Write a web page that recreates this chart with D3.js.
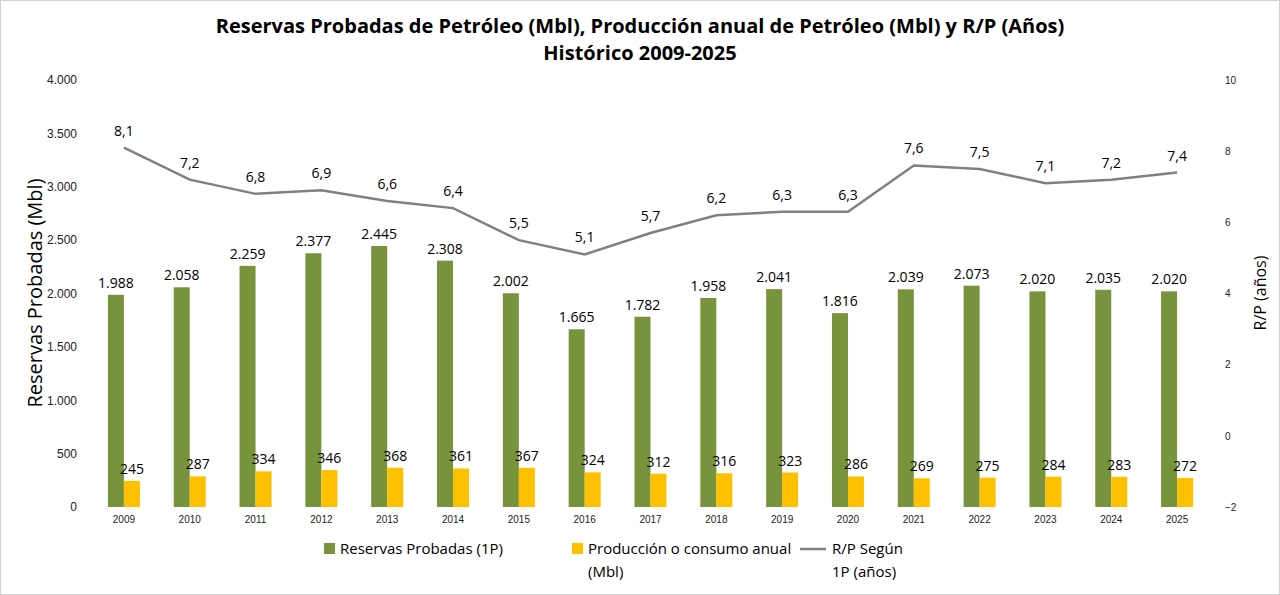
<!DOCTYPE html>
<html lang="es">
<head>
<meta charset="UTF-8">
<script src="https://d3js.org/d3.v7.min.js"></script>
<style>
  body { margin:0; background:#fff; font-family: "Open Sans", sans-serif; }
  .tick text { fill:#222; }
  .domain, .tick line { display:none; }
</style>
</head>
<body>
<svg id="chart" width="1280" height="595"></svg>
<script>
const years = [2009,2010,2011,2012,2013,2014,2015,2016,2017,2018,2019,2020,2021,2022,2023,2024,2025];
const reservas = [1988,2058,2259,2377,2445,2308,2002,1665,1782,1958,2041,1816,2039,2073,2020,2035,2020];
const produccion = [245,287,334,346,368,361,367,324,312,316,323,286,269,275,284,283,272];
const rp = [8.1,7.2,6.8,6.9,6.6,6.4,5.5,5.1,5.7,6.2,6.3,6.3,7.6,7.5,7.1,7.2,7.4];
const leftTicks = [0,500,1000,1500,2000,2500,3000,3500,4000];
const rightTicks = [-2,0,2,4,6,8,10];

const svg = d3.select("#chart");
const fmt = d3.formatLocale({decimal:",", thousands:".", grouping:[3], currency:["",""]});
const fInt = fmt.format(",d"), fDec = fmt.format(".1f");

svg.append("rect").attr("x",0.5).attr("y",0.5).attr("width",1279).attr("height",594)
  .attr("fill","#fff").attr("stroke","#d0d0d0");

svg.append("text").attr("x",640).attr("y",33).attr("text-anchor","middle")
  .attr("font-size",20).attr("font-weight","bold")
  .text("Reservas Probadas de Petróleo (Mbl), Producción anual de Petróleo (Mbl) y R/P (Años)");
svg.append("text").attr("x",640).attr("y",60).attr("text-anchor","middle")
  .attr("font-size",20).attr("font-weight","bold").text("Histórico 2009-2025");

const x = d3.scaleBand().domain(years).range([91,1210]);
const y = d3.scaleLinear().domain([0,4000]).range([507,80]);
const y2 = d3.scaleLinear().domain([-2,10]).range([507,80]);
const bw = 16;
const cx = d => x(d) + x.bandwidth()/2;

svg.append("g").attr("transform","translate(80,0)")
  .call(d3.axisLeft(y).tickValues(leftTicks).tickFormat(fInt).tickSize(0))
  .selectAll("text").attr("font-size",12);
svg.append("g").attr("transform","translate(1222,0)")
  .call(d3.axisRight(y2).tickValues(rightTicks).tickSize(0))
  .selectAll("text").attr("font-size",10);
svg.append("g").attr("transform","translate(0,513)")
  .call(d3.axisBottom(x).tickSize(0))
  .selectAll("text").attr("font-size",10);

svg.append("text").attr("transform","translate(42,293) rotate(-90)").attr("text-anchor","middle")
  .attr("font-size",20).text("Reservas Probadas (Mbl)");
svg.append("text").attr("transform","translate(1266,293) rotate(-90)").attr("text-anchor","middle")
  .attr("font-size",16).text("R/P (años)");

svg.selectAll(".g").data(years).enter().append("rect")
  .attr("x",d=>cx(d)-bw).attr("width",bw)
  .attr("y",(d,i)=>y(reservas[i])).attr("height",(d,i)=>y(0)-y(reservas[i]))
  .attr("fill","#77933c");
svg.selectAll(".yl").data(years).enter().append("rect")
  .attr("x",d=>cx(d)).attr("width",bw)
  .attr("y",(d,i)=>y(produccion[i])).attr("height",(d,i)=>y(0)-y(produccion[i]))
  .attr("fill","#ffc000");

svg.selectAll(".gl").data(years).enter().append("text")
  .attr("x",d=>cx(d)-bw/2).attr("y",(d,i)=>y(reservas[i])-7).attr("text-anchor","middle")
  .attr("font-size",14).text((d,i)=>fInt(reservas[i]));
svg.selectAll(".pl").data(years).enter().append("text")
  .attr("x",d=>cx(d)+bw/2).attr("y",(d,i)=>y(produccion[i])-7).attr("text-anchor","middle")
  .attr("font-size",14).text((d,i)=>produccion[i]);

svg.append("path").datum(rp)
  .attr("d", d3.line().x((d,i)=>cx(years[i])).y(d=>y2(d)))
  .attr("fill","none").attr("stroke","#808080").attr("stroke-width",2.5);
svg.selectAll(".rl").data(years).enter().append("text")
  .attr("x",d=>cx(d)).attr("y",(d,i)=>y2(rp[i])-12).attr("text-anchor","middle")
  .attr("font-size",14).text((d,i)=>fDec(rp[i]));

const lg = svg.append("g").attr("font-size",15);
lg.append("rect").attr("x",324).attr("y",543).attr("width",11).attr("height",11).attr("fill","#77933c");
lg.append("text").attr("x",340).attr("y",554).text("Reservas Probadas (1P)");
lg.append("rect").attr("x",572).attr("y",543).attr("width",11).attr("height",11).attr("fill","#ffc000");
lg.append("text").attr("x",588).attr("y",554).text("Producción o consumo anual");
lg.append("text").attr("x",588).attr("y",577).text("(Mbl)");
lg.append("line").attr("x1",800).attr("x2",826).attr("y1",549).attr("y2",549)
  .attr("stroke","#808080").attr("stroke-width",2.5);
lg.append("text").attr("x",832).attr("y",554).text("R/P Según");
lg.append("text").attr("x",832).attr("y",577).text("1P (años)");
</script>
</body>
</html>
